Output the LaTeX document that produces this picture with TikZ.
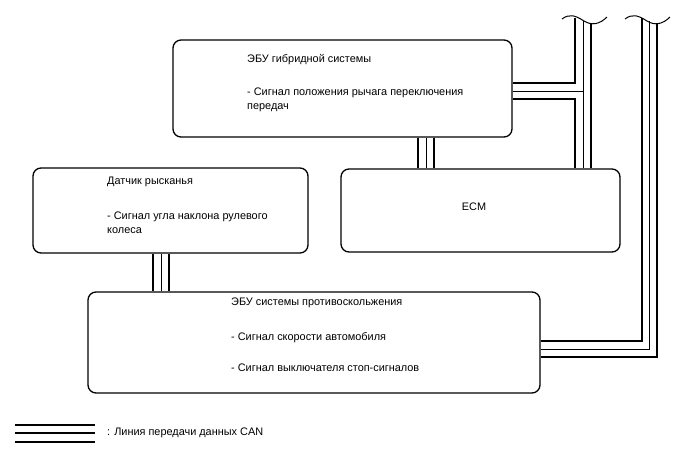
\documentclass[tikz,border=0pt]{standalone}
\usepackage{fontspec}
\setmainfont{Liberation Sans}
\begin{document}
\begin{tikzpicture}[x=1pt,y=-1pt,
  box/.style={draw, line width=1.3pt, rounded corners=8pt, inner sep=0pt},
  lbl/.style={anchor=base west, inner sep=0pt, font=\fontsize{10.9}{13}\selectfont},
  thk/.style={line width=2pt},
  thn/.style={line width=1pt},
  wave/.style={line width=1pt}]
\useasboundingbox (0,0) rectangle (688,463);
% boxes
\node[box, minimum width=339, minimum height=97] (hyb) at (342.5,88.5) {};
\node[box, minimum width=275, minimum height=85] (yaw) at (170.5,210.5) {};
\node[box, minimum width=279, minimum height=83] (ecm) at (480.5,210.5) {};
\node[box, minimum width=452, minimum height=101] (abs) at (314,342.5) {};
% texts
\node[lbl] (h1) at (247,62) {ЭБУ гибридной системы};
\node[lbl] (h2) at (247,95) {- Сигнал положения рычага переключения};
\node[lbl] (h3) at (247,109) {передач};
\node[lbl] (y1) at (107,184) {Датчик рысканья};
\node[lbl] (y2) at (107,219) {- Сигнал угла наклона рулевого};
\node[lbl] (y3) at (107,233) {колеса};
\node[anchor=center, inner sep=0pt, font=\fontsize{10.9}{13}\selectfont] (e1) at (474,207) {ECM};
\node[lbl] (a1) at (231,305) {ЭБУ системы противоскольжения};
\node[lbl] (a2) at (231,340) {- Сигнал скорости автомобиля};
\node[lbl] (a3) at (231,371) {- Сигнал выключателя стоп-сигналов};
% hybrid -> ECM
\draw[thk] (418,0 |- hyb.south) -- (418,0 |- ecm.north);
\draw[thn] (426,0 |- hyb.south) -- (426,0 |- ecm.north);
\draw[thk] (434,0 |- hyb.south) -- (434,0 |- ecm.north);
% yaw -> ABS
\draw[thk] (153,0 |- yaw.south) -- (153,0 |- abs.north);
\draw[thn] (161,0 |- yaw.south) -- (161,0 |- abs.north);
\draw[thk] (169,0 |- yaw.south) -- (169,0 |- abs.north);
% bus 1
\coordinate (w1) at (562,19);
\coordinate (w2) at (625,19);
\draw[thk] (575,18) -- (575,83) -- (hyb.east |- 0,83);
\draw[thk] (hyb.east |- 0,99) -- (575,99) -- (575,0 |- ecm.north);
\draw[thn] (583,21) -- (583,0 |- ecm.north);
\draw[thn] (hyb.east |- 0,91) -- (583,91);
\draw[thk] (591,24) -- (591,0 |- ecm.north);
\draw[wave] (w1) .. controls (570,13) and (576,16) .. (584,21) .. controls (592,26) and (600,24) .. (607,17);
% bus 2
\draw[thk] (642,18) -- (642,341) -- (abs.east |- 0,341);
\draw[thn] (649,21) -- (649,349) -- (abs.east |- 0,349);
\draw[thk] (657,24) -- (657,357) -- (abs.east |- 0,357);
\draw[wave] (w2) .. controls (633,13) and (639,16) .. (647,21) .. controls (655,26) and (663,24) .. (670,17);
% legend
\coordinate (l1) at (15,425);
\coordinate (l2) at (95,425);
\draw[thk] (l1) -- (l2);
\draw[thk] (15,433) -- (95,433);
\draw[thk] (15,442) -- (95,442);
\node[lbl] (lt) at (107,435) {: Линия передачи данных CAN};
\end{tikzpicture}
\end{document}
